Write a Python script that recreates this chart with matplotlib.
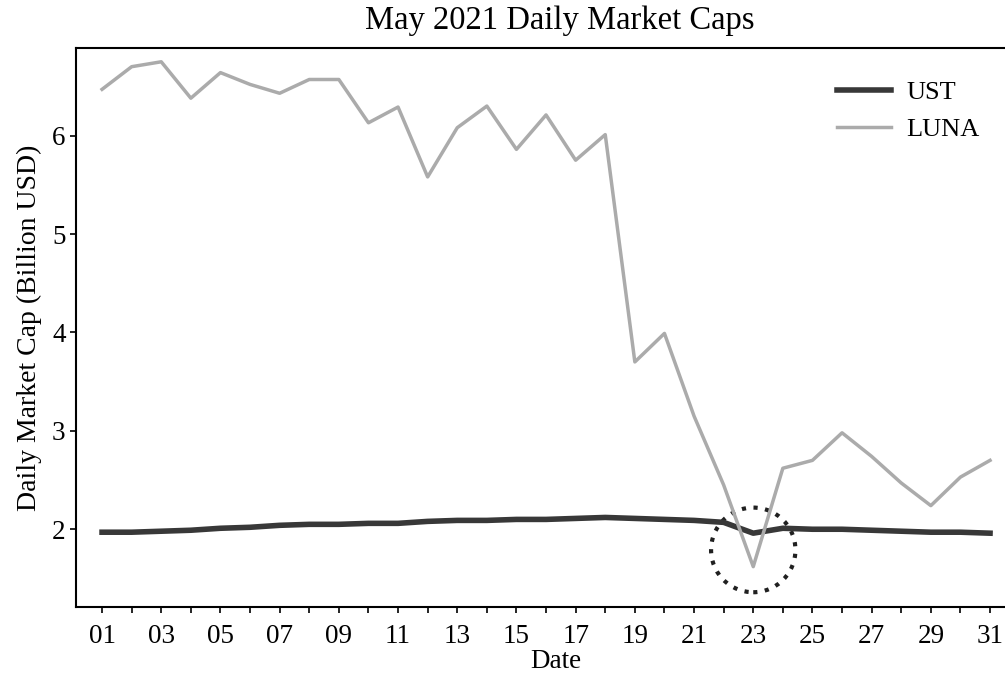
import matplotlib.pyplot as plt
import numpy as np
from matplotlib.patches import Ellipse
from matplotlib.ticker import MultipleLocator

plt.rcParams['font.family'] = ['Liberation Serif', 'DejaVu Serif']

days = np.arange(1, 32)
ust = [1.97, 1.97, 1.98, 1.99, 2.01, 2.02, 2.04, 2.05, 2.05, 2.06,
       2.06, 2.08, 2.09, 2.09, 2.10, 2.10, 2.11, 2.12, 2.11, 2.10,
       2.09, 2.07, 1.96, 2.01, 2.00, 2.00, 1.99, 1.98, 1.97, 1.97,
       1.96]
luna = [6.47, 6.70, 6.75, 6.38, 6.64, 6.52, 6.43, 6.57, 6.57, 6.13,
        6.29, 5.58, 6.08, 6.30, 5.86, 6.21, 5.75, 6.01, 3.70, 3.99,
        3.15, 2.45, 1.62, 2.62, 2.70, 2.98, 2.74, 2.47, 2.24, 2.53,
        2.70]
tick_days = np.arange(1, 32, 2)

fig = plt.figure(figsize=(10.05, 6.74), dpi=100)
ax = fig.add_axes([76 / 1005, 67 / 674, 960 / 1005, 559 / 674])

ax.plot(days, ust, color='#383838', lw=4, label='UST')
ax.plot(days, luna, color='#ababab', lw=2.5, label='LUNA')

# highlight the 23rd
circ = Ellipse((23, 1.79), width=2.85, height=0.86, fill=False,
               edgecolor='#202020', lw=3, linestyle=(0, (1, 1.8)))
ax.add_patch(circ)

ax.set_xlim(0.12, 0.12 + 960 / 29.6)
ax.set_ylim(1.21, 6.89)
ax.set_xticks(tick_days)
ax.set_xticklabels(['%02d' % d for d in tick_days])
ax.xaxis.set_minor_locator(MultipleLocator(1))
ax.set_yticks([2, 3, 4, 5, 6])
ax.tick_params(axis='both', which='both', labelsize=19.5, length=4, width=1.2)
ax.tick_params(axis='x', which='both', pad=8)
ax.spines['right'].set_visible(False)
for s in ['left', 'bottom', 'top']:
    ax.spines[s].set_linewidth(1.5)

ax.set_xlabel('Date', fontsize=19.5, labelpad=0)
ax.set_ylabel('Daily Market Cap (Billion USD)', fontsize=20, labelpad=7)
fig.text(560 / 1005, 1 - 21 / 674, 'May 2021 Daily Market Caps', fontsize=23.5,
         ha='center', va='center')

ax.legend(loc='upper left', bbox_to_anchor=(813 / 1005, 1 - 57 / 674),
          bbox_transform=fig.transFigure, frameon=False, fontsize=19,
          handlelength=2.05, handletextpad=0.6, labelspacing=0.5)

fig.savefig('out.png', dpi=100)
